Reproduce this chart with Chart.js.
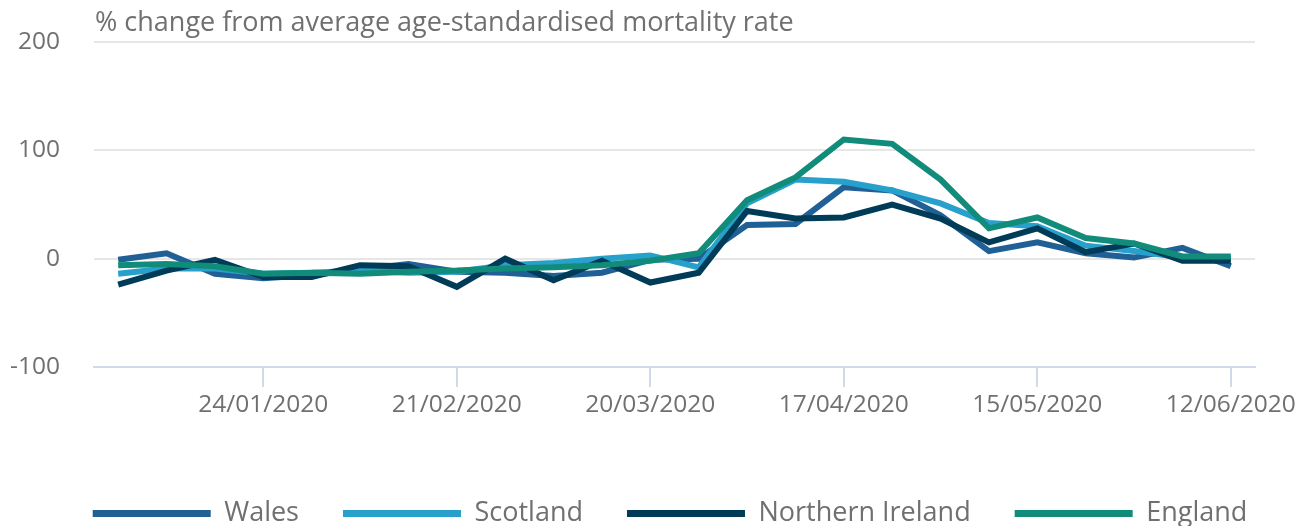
<!DOCTYPE html>
<html>
<head>
<meta charset="utf-8">
<script src="https://cdn.jsdelivr.net/npm/chart.js@4/dist/chart.umd.min.js"></script>
<style>
  html, body { margin: 0; padding: 0; background: #ffffff; }
  #wrap { width: 1305px; height: 526px; position: relative; }
</style>
</head>
<body>
<div id="wrap"><canvas id="c"></canvas></div>
<script>
const weeks = ["03/01/2020","10/01/2020","17/01/2020","24/01/2020","31/01/2020","07/02/2020",
  "14/02/2020","21/02/2020","28/02/2020","06/03/2020","13/03/2020","20/03/2020",
  "27/03/2020","03/04/2020","10/04/2020","17/04/2020","24/04/2020","01/05/2020",
  "08/05/2020","15/05/2020","22/05/2020","29/05/2020","05/06/2020","12/06/2020"];
const shownTicks = ["24/01/2020","21/02/2020","20/03/2020","17/04/2020","15/05/2020","12/06/2020"];
const wales    = [-1, 5, -14, -18, -15, -10, -5, -12, -13, -16, -13, -1, 0, 31, 32, 66, 63, 40, 7, 15, 5, 1, 10, -7];
const scotland = [-14, -9, -9, -14, -13, -11, -13, -12, -6, -4, 0, 3, -8, 51, 73, 71, 63, 51, 33, 30, 12, 7, 1, 0];
const nIreland = [-24, -11, -1, -17, -17, -6, -7, -26, 0, -20, -2, -22, -13, 44, 37, 38, 50, 37, 15, 28, 6, 14, -2, -2];
const england  = [-6, -5, -7, -14, -13, -14, -12, -11, -9, -8, -6, -2, 5, 54, 75, 110, 106, 73, 28, 38, 19, 14, 2, 2];
const yTitle = "% change from average age-standardised mortality rate";

Chart.defaults.font.family = "'Open Sans', sans-serif";
Chart.defaults.color = "#707070";

const titlePlugin = {
  id: 'yTitle',
  beforeDraw(chart) {
    // nudge the legend to its place in the reference
    if (chart.legend) { chart.legend.left = 35; chart.legend.top += 11; }
  },
  afterDraw(chart) {
    const ctx = chart.ctx;
    ctx.save();
    ctx.font = "27px 'Open Sans', sans-serif";
    ctx.fillStyle = "#707070";
    ctx.textAlign = "left";
    ctx.textBaseline = "alphabetic";
    ctx.fillText(yTitle, chart.chartArea.left + 1, 31);
    ctx.restore();
  }
};

function ds(label, data, color, order) {
  return { label, data, borderColor: color, backgroundColor: color, borderWidth: 6,
           pointRadius: 0, pointHoverRadius: 0, tension: 0, fill: false, order,
           borderJoinStyle: 'miter', yAxisID: 'y' };
}

new Chart(document.getElementById('c'), {
  type: 'line',
  data: {
    labels: weeks,
    datasets: [
      ds("Wales", wales, "#206095", 3),
      ds("Scotland", scotland, "#27a0cc", 2),
      ds("Northern Ireland", nIreland, "#003c57", 1),
      ds("England", england, "#118c7b", 0)
    ]
  },
  options: {
    responsive: true,
    maintainAspectRatio: false,
    animation: false,
    layout: { padding: { left: 0, right: 0, top: 42, bottom: 0 } },
    plugins: {
      tooltip: { enabled: false },
      title: { display: false },
      legend: {
        position: 'bottom',
        labels: {
          boxWidth: 118, boxHeight: 7, padding: 44,
          font: { size: 27 }, color: "#707070",
          sort: (a, b) => a.datasetIndex - b.datasetIndex,
          generateLabels(chart) {
            return chart.data.datasets.map((d, i) => ({
              text: d.label, fillStyle: d.borderColor, strokeStyle: d.borderColor,
              lineWidth: 0, datasetIndex: i, hidden: false, fontColor: "#707070"
            }));
          }
        }
      }
    },
    scales: {
      x: {
        offset: true,
        afterFit(scale) { scale.height = 78; },
        grid: { drawOnChartArea: false, drawTicks: true, tickLength: 20, color: "#cfdaea", lineWidth: 2 },
        border: { display: true, color: "#cfdaea", width: 2 },
        ticks: {
          autoSkip: false, maxRotation: 0, padding: 3,
          font: { size: 24.5 }, color: "#707070",
          callback(v, i) { const l = weeks[i]; return shownTicks.includes(l) ? l : null; }
        }
      },
      y: {
        position: 'left',
        min: -100, max: 200,
        afterFit(scale) { scale.width = 94; scale.paddingTop = 0; scale.paddingBottom = 0; },
        grid: { color: "#e6e6e6", lineWidth: 2, drawTicks: false },
        border: { display: false },
        ticks: { stepSize: 100, padding: 34, font: { size: 24.5 }, color: "#707070" }
      },
      y2: {
        position: 'right',
        display: true,
        afterFit(scale) { scale.width = 50; scale.paddingTop = 0; scale.paddingBottom = 0; },
        grid: { display: false, drawTicks: false },
        border: { display: false },
        ticks: { display: false }
      }
    }
  },
  plugins: [titlePlugin]
});
</script>
</body>
</html>
